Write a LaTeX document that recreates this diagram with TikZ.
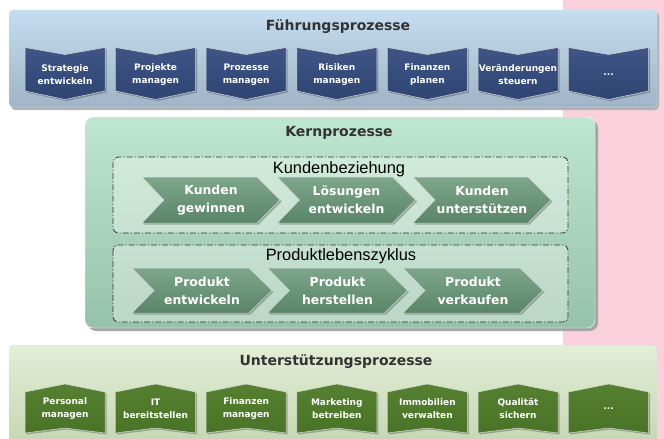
\documentclass[tikz,border=0pt]{standalone}
\usepackage{fontspec}
\setmainfont{DejaVu Sans}
\newfontfamily\groupfont{Liberation Sans}

\definecolor{pinkband}{HTML}{F9D0DC}
\definecolor{titlegray}{HTML}{333333}
\definecolor{fuehrtop}{HTML}{C5DDF0}
\definecolor{fuehrbot}{HTML}{9FB4C7}
\definecolor{fuehrboxtop}{HTML}{3E5586}
\definecolor{fuehrboxbot}{HTML}{2E4472}
\definecolor{kerntop}{HTML}{BEE6D0}
\definecolor{kernbot}{HTML}{97C2AA}
\definecolor{kernboxtop}{HTML}{7DA68B}
\definecolor{kernboxbot}{HTML}{5A8467}
\definecolor{untertop}{HTML}{E3EED6}
\definecolor{unterbot}{HTML}{C3D5B1}
\definecolor{unterboxtop}{HTML}{567F31}
\definecolor{unterboxbot}{HTML}{497326}

% three dots for the open boxes
\newcommand{\moredots}{...}

\begin{document}
\begin{tikzpicture}[x=1pt,y=-1pt,
    paneltitle/.style={font=\fontsize{14}{16}\selectfont\bfseries,text=titlegray},
    grouptitle/.style={font=\groupfont\fontsize{16.4}{18}\selectfont,text=black},
    smalltext/.style={font=\fontsize{9}{13}\selectfont\bfseries,text=white,align=center},
    bigtext/.style={font=\fontsize{12.4}{18}\selectfont\bfseries,text=white,align=center},
    boxshadow/.style={fill=black,fill opacity=0.25},
    groupbox/.style={draw=black!80,dash pattern=on 6pt off 2pt on 1.2pt off 2pt,line width=0.8pt,
        rounded corners=5pt,fill=white,fill opacity=0.35}]
    \useasboundingbox (0,0) rectangle (664,439);
    \fill[pinkband] (563,0) rectangle (664,439);

    % Fuehrungsprozesse
    \fill[black!30,rounded corners=4pt] (11,12) rectangle (659,110);
    \shade[top color=fuehrtop,bottom color=fuehrbot,draw=white!75!gray,rounded corners=4pt] (9,10) rectangle (657,107);
    \node[paneltitle] (fuehr) at (338,27) {Führungsprozesse};
    \foreach \lbl [count=\i from 0] in {{Strategie\\entwickeln},{Projekte\\managen},{Prozesse\\managen},
        {Risiken\\managen},{Finanzen\\planen},{Veränderungen\\steuern},\moredots}
        {
            \pgfmathsetmacro{\bx}{25+90.6*\i}
            \fill[boxshadow] (\bx+1.5,49) -- (\bx+41.5,56) -- (\bx+81.5,49) -- (\bx+81.5,92.5) -- (\bx+41.5,101) -- (\bx+1.5,92.5) -- cycle;
            \shade[top color=fuehrboxtop,bottom color=fuehrboxbot,draw=white!70!gray,line width=0.5pt]
                (\bx,47.5) -- (\bx+40,54.5) -- (\bx+80,47.5) -- (\bx+80,91) -- (\bx+40,99.5) -- (\bx,91) -- cycle;
            \node[smalltext] (fp-\i) at (\bx+40,75) {\lbl};
        }

    % Kernprozesse
    \fill[black!35,rounded corners=8pt] (88,120) rectangle (598,331);
    \shade[top color=kerntop,bottom color=kernbot,draw=white,rounded corners=8pt] (85,117) rectangle (595,328);
    \node[paneltitle] (kern) at (339,133) {Kernprozesse};

    \draw[groupbox] (113,157) rectangle (568,233);
    \node[grouptitle] (kunde) at (339,169) {Kundenbeziehung};
    \foreach \lbl [count=\i from 0] in {{Kunden\\gewinnen},{Lösungen\\entwickeln},{Kunden\\unterstützen}}
        {
            \pgfmathsetmacro{\bx}{142+135.5*\i}
            \fill[boxshadow] (\bx+1.5,178.5) -- (\bx+116.5,178.5) -- (\bx+139.5,201.5) -- (\bx+116.5,224.5) -- (\bx+1.5,224.5) -- (\bx+23.5,201.5) -- cycle;
            \shade[top color=kernboxtop,bottom color=kernboxbot,draw=white!70!gray,line width=0.5pt]
                (\bx,177) -- (\bx+115,177) -- (\bx+138,200) -- (\bx+115,223) -- (\bx,223) -- (\bx+22,200) -- cycle;
            \node[bigtext] (kb-\i) at (\bx+69,200) {\lbl};
        }

    \draw[groupbox] (113,245) rectangle (568,322);
    \node[grouptitle] (produkt) at (341,256) {Produktlebenszyklus};
    \foreach \lbl [count=\i from 0] in {{Produkt\\entwickeln},{Produkt\\herstellen},{Produkt\\verkaufen}}
        {
            \pgfmathsetmacro{\bx}{132+135.5*\i}
            \fill[boxshadow] (\bx+1.5,269.5) -- (\bx+118.5,269.5) -- (\bx+141.5,292) -- (\bx+118.5,314.5) -- (\bx+1.5,314.5) -- (\bx+23.5,292) -- cycle;
            \shade[top color=kernboxtop,bottom color=kernboxbot,draw=white!70!gray,line width=0.5pt]
                (\bx,268) -- (\bx+117,268) -- (\bx+140,290.5) -- (\bx+117,313) -- (\bx,313) -- (\bx+22,290.5) -- cycle;
            \node[bigtext] (pl-\i) at (\bx+70,290.5) {\lbl};
        }

    % Unterstuetzungsprozesse
    \shade[top color=untertop,bottom color=unterbot,draw=white!75!gray,rounded corners=4pt] (9,345) rectangle (657,450);
    \node[paneltitle] (unter) at (336,362) {Unterstützungsprozesse};
    \foreach \lbl [count=\i from 0] in {{Personal\\managen},{IT\\bereitstellen},{Finanzen\\managen},
        {Marketing\\betreiben},{Immobilien\\verwalten},{Qualität\\sichern},\moredots}
        {
            \pgfmathsetmacro{\bx}{25+90.6*\i}
            \fill[boxshadow] (\bx+1.5,393.5) -- (\bx+41.5,385.5) -- (\bx+81.5,393.5) -- (\bx+81.5,434.5) -- (\bx+41.5,429.5) -- (\bx+1.5,434.5) -- cycle;
            \shade[top color=unterboxtop,bottom color=unterboxbot,draw=white!70!gray,line width=0.5pt]
                (\bx,392) -- (\bx+40,384) -- (\bx+80,392) -- (\bx+80,433) -- (\bx+40,428) -- (\bx,433) -- cycle;
            \node[smalltext] (up-\i) at (\bx+40,409) {\lbl};
        }
\end{tikzpicture}
\end{document}
